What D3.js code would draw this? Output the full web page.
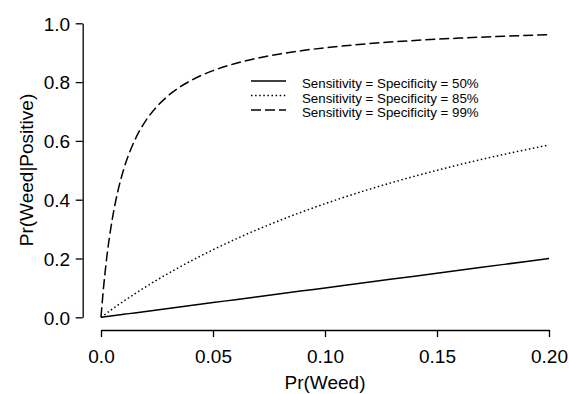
<!DOCTYPE html>
<html>
<head>
<meta charset="utf-8">
<script src="https://cdn.jsdelivr.net/npm/d3@7"></script>
<style>
  body { margin: 0; background: #fff; }
  svg { display: block; font-family: "Liberation Sans", Arial, sans-serif; }
</style>
</head>
<body>
<script>
// values
var pWeed   = [0, 0.001, 0.0025, 0.005, 0.0075, 0.01, 0.015, 0.02, 0.025, 0.03, 0.04, 0.05,
               0.06, 0.07, 0.08, 0.09, 0.10, 0.12, 0.14, 0.16, 0.18, 0.20];
var post50  = [0, 0.001, 0.0025, 0.005, 0.0075, 0.01, 0.015, 0.02, 0.025, 0.03, 0.04, 0.05,
               0.06, 0.07, 0.08, 0.09, 0.10, 0.12, 0.14, 0.16, 0.18, 0.20];
var post85  = [0, 0.0056, 0.014, 0.0277, 0.0411, 0.0541, 0.0794, 0.1037, 0.1269, 0.1491, 0.191, 0.2297,
               0.2656, 0.299, 0.3301, 0.3592, 0.3864, 0.4359, 0.4798, 0.5191, 0.5543, 0.5862];
var post99  = [0, 0.09, 0.1988, 0.3322, 0.428, 0.5, 0.6012, 0.6689, 0.7174, 0.7538, 0.8049, 0.839,
               0.8634, 0.8817, 0.8959, 0.9073, 0.9167, 0.931, 0.9416, 0.9496, 0.956, 0.9612];
var seriesLabels = ["Sensitivity = Specificity = 50%",
                    "Sensitivity = Specificity = 85%",
                    "Sensitivity = Specificity = 99%"];
var xTicks = [0, 0.05, 0.10, 0.15, 0.20];
var yTicks = [0, 0.2, 0.4, 0.6, 0.8, 1.0];

var width = 569, height = 394;
var dashes = [null, "1.5,2.6", "10,4"];

var svg = d3.select("body").append("svg")
    .attr("width", width)
    .attr("height", height);

var x = d3.scaleLinear().domain([0, 0.2]).range([101, 549]);
var y = d3.scaleLinear().domain([0, 1]).range([317.3, 23.3]);

// axes (R style: detached from each other)
var xAxis = svg.append("g")
    .attr("transform", "translate(0,330)")
    .call(d3.axisBottom(x).tickValues(xTicks).tickFormat(d3.format(".2f")).tickSize(7).tickSizeOuter(0));
xAxis.selectAll("text").text(function(d) { return d === 0 ? "0.0" : d3.format(".2f")(d); });

var yAxis = svg.append("g")
    .attr("transform", "translate(82.7,0)")
    .call(d3.axisLeft(y).tickValues(yTicks).tickFormat(d3.format(".1f")).tickSize(7).tickSizeOuter(0));

svg.selectAll(".domain, .tick line").attr("stroke", "#000").attr("stroke-width", 1.3);
svg.selectAll(".tick text").attr("fill", "#000").style("font-size", "19px")
    .style("font-family", "'Liberation Sans', Arial, sans-serif");
xAxis.selectAll(".tick text").attr("y", 14).attr("dy", "1em");
yAxis.selectAll(".tick text").attr("x", -12.5).attr("dy", "0.36em");

svg.append("text")
    .attr("x", 325).attr("y", 389)
    .attr("text-anchor", "middle")
    .style("font-size", "19px")
    .text("Pr(Weed)");

svg.append("text")
    .attr("transform", "translate(33,170) rotate(-90)")
    .attr("text-anchor", "middle")
    .style("font-size", "19px")
    .text("Pr(Weed|Positive)");

// curves
var series = [post50, post85, post99];
var line = d3.line()
    .x(function(d) { return x(d[0]); })
    .y(function(d) { return y(d[1]); })
    .curve(d3.curveMonotoneX);

svg.selectAll(".curve")
    .data(series)
  .enter().append("path")
    .attr("class", "curve")
    .attr("fill", "none")
    .attr("stroke", "#000")
    .attr("stroke-width", 1.5)
    .attr("stroke-dasharray", function(d, i) { return dashes[i]; })
    .attr("d", function(s) { return line(pWeed.map(function(p, j) { return [p, s[j]]; })); });

// legend
var legend = svg.selectAll(".legend")
    .data(seriesLabels)
  .enter().append("g")
    .attr("class", "legend")
    .attr("transform", function(d, i) { return "translate(0," + (i * 14.5) + ")"; });

legend.append("line")
    .attr("x1", 251).attr("x2", 286)
    .attr("y1", 81).attr("y2", 81)
    .attr("stroke", "#000")
    .attr("stroke-width", 1.5)
    .attr("stroke-dasharray", function(d, i) { return dashes[i]; });

legend.append("text")
    .attr("x", 302).attr("y", 88)
    .style("font-size", "13.3px")
    .text(function(d) { return d; });
</script>
</body>
</html>
